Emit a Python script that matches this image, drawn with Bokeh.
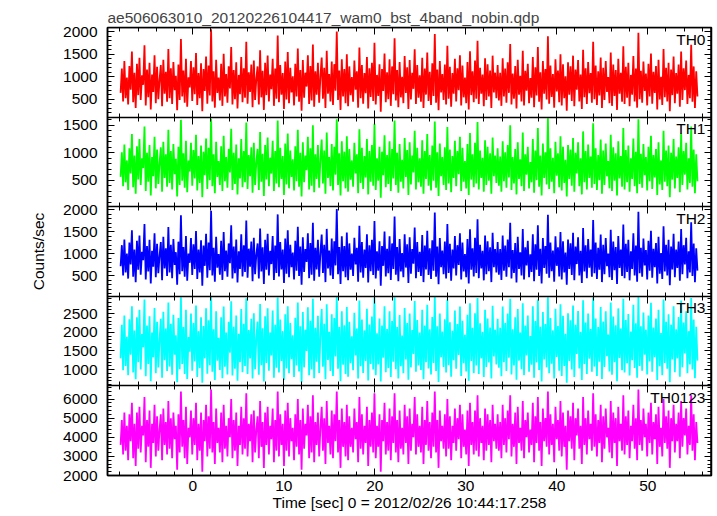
import numpy as np
from bokeh.plotting import figure
from bokeh.models import (Range1d, LinearAxis, FixedTicker, SingleIntervalTicker,
                          Label)
from bokeh.embed import file_html
from bokeh.resources import INLINE

# ---------------- data ----------------
t_start = -7.93
t_step = 0.1381

th0 = [
    640, 1180, 450, 1350, 520, 980, 380, 1240, 710, 1560, 430, 1090, 300, 1290, 590, 1420, 480, 1030, 820, 1700,
    360, 1160, 540, 1310, 270, 1050, 660, 1480, 410, 1220, 500, 930, 1260, 340, 1380, 620, 1110, 440, 1620, 520,
    1190, 390, 1330, 700, 1020, 250, 1270, 480, 1840, 560, 1140, 420, 1400, 330, 990, 760, 1350, 460, 1210, 610,
    1530, 370, 1080, 520, 1300, 230, 1170, 680, 1450, 400, 1250, 580, 2060, 450, 1120, 310, 1380, 640, 980, 470,
    1290, 350, 1510, 560, 1060, 420, 1230, 740, 1660, 380, 1150, 500, 1320, 290, 1040, 610, 1440, 430, 1190, 530,
    1780, 400, 1100, 660, 1270, 320, 1360, 480, 960, 1230, 380, 1590, 540, 1130, 260, 1310, 590, 1470, 450, 1050,
    720, 1400, 350, 1180, 510, 1920, 430, 1260, 600, 1080, 280, 1340, 490, 1550, 410, 1200, 650, 1010, 360, 1290,
    560, 1630, 440, 1150, 240, 1370, 530, 1090, 780, 1480, 390, 1240, 470, 1720, 330, 1120, 600, 1310, 420, 1010,
    1430, 510, 1200, 300, 1580, 620, 1060, 450, 1340, 370, 1280, 690, 2010, 480, 1140, 260, 1390, 560, 1170, 410,
    1500, 340, 1230, 590, 990, 440, 1360, 710, 1120, 310, 1650, 520, 1260, 400, 1080, 630, 1440, 290, 1190, 550,
    1310, 460, 1760, 380, 1040, 570, 1280, 220, 1170, 680, 1520, 430, 1100, 500, 1390, 350, 1230, 610, 1860, 470,
    1150, 320, 1330, 540, 1000, 410, 1460, 640, 1210, 280, 1370, 490, 1090, 730, 1610, 390, 1260, 530, 1030, 440,
    1420, 300, 1180, 600, 1540, 460, 1110, 370, 1300, 570, 1950, 420, 1160, 250, 1350, 650, 1060, 480, 1270, 380,
    1690, 510, 1220, 330, 1080, 620, 1400, 450, 1190, 700, 1480, 360, 1250, 540, 980, 410, 1330, 270, 1570, 590,
    1120, 430, 1360, 510, 1800, 390, 1200, 620, 1050, 340, 1410, 480, 1280, 560, 1140, 300, 1470, 650, 1090, 520,
    1260, 470, 1090, 350, 1410, 560, 1180, 420, 1320, 640, 1730, 380, 1070, 510, 1240, 290, 1380, 600, 1020, 450,
    1580, 360, 1130, 690, 1290, 410, 970, 530, 1440, 320, 1210, 580, 1660, 440, 1100, 270, 1350, 620, 1170, 490,
    1900, 400, 1250, 550, 1060, 310, 1390, 670, 1140, 430, 1500, 360, 1280, 520, 1010, 240, 1320, 600, 1230, 460,
    1470, 340, 1160, 710, 1370, 450, 1050, 280, 1600, 540, 1190, 390, 1330, 630, 1080, 420, 1780, 500, 1250, 370,
    1120, 580, 1430, 300, 1200, 480, 1350, 660, 990, 410, 1540, 350, 1270, 570, 1150, 260, 1400, 620, 1090, 440,
    1680, 390, 1220, 530, 1310, 340, 1040, 600, 1460, 450, 1180, 310, 1980, 500, 1130, 420, 1340, 680, 1070, 360,
    1290, 560, 1520, 400, 1110, 640, 1240, 270, 1380, 490, 1000, 370, 1620, 540, 1200, 450, 1310, 230, 1160, 590,
    1450, 410, 1080, 620, 1270, 330, 1560, 480, 1190, 700, 1360, 390, 1040, 520, 1710, 440, 1230, 300, 1120, 560,
]
th1 = [
    560, 1010, 390, 1150, 460, 860, 320, 1080, 620, 1340, 370, 950, 250, 1120, 510, 1250, 410, 900, 720, 1480,
    300, 1000, 470, 1140, 220, 920, 570, 1290, 350, 1060, 430, 810, 1100, 290, 1200, 540, 970, 380, 1420, 450,
    1030, 330, 1160, 610, 890, 200, 1110, 410, 1600, 490, 990, 360, 1220, 280, 860, 660, 1180, 400, 1050, 530,
    1330, 310, 940, 450, 1130, 190, 1020, 590, 1260, 340, 1090, 500, 1620, 390, 970, 260, 1200, 560, 850, 410,
    1120, 300, 1310, 480, 920, 360, 1070, 640, 1440, 320, 1000, 430, 1150, 240, 900, 530, 1250, 370, 1030, 460,
    1550, 340, 960, 570, 1100, 270, 1180, 410, 830, 1070, 320, 1380, 470, 980, 210, 1140, 510, 1280, 390, 910,
    620, 1220, 300, 1030, 440, 1590, 370, 1090, 520, 940, 230, 1170, 420, 1350, 350, 1040, 560, 880, 310, 1120,
    480, 1420, 380, 1000, 200, 1190, 460, 950, 680, 1290, 330, 1080, 400, 1500, 280, 970, 520, 1140, 360, 880,
    1240, 440, 1040, 250, 1370, 540, 920, 390, 1160, 310, 1110, 600, 1610, 410, 990, 220, 1210, 480, 1020, 350,
    1300, 290, 1070, 510, 860, 380, 1180, 620, 970, 260, 1430, 450, 1090, 340, 940, 550, 1250, 240, 1030, 470,
    1140, 400, 1530, 320, 900, 490, 1110, 180, 1020, 590, 1320, 370, 960, 430, 1210, 300, 1070, 530, 1590, 410,
    1000, 270, 1160, 470, 870, 350, 1270, 560, 1050, 230, 1190, 420, 950, 640, 1400, 330, 1090, 460, 900, 380,
    1230, 250, 1030, 520, 1340, 400, 960, 310, 1130, 490, 1570, 360, 1010, 210, 1170, 570, 920, 410, 1100, 320,
    1470, 440, 1060, 280, 940, 540, 1220, 390, 1030, 610, 1290, 300, 1090, 470, 850, 350, 1160, 230, 1360, 510,
    970, 370, 1180, 440, 1560, 330, 1040, 540, 910, 290, 1230, 410, 1110, 490, 990, 250, 1280, 570, 950, 450,
    1080, 400, 930, 290, 1210, 480, 1010, 360, 1140, 550, 1500, 320, 920, 440, 1070, 240, 1190, 520, 880, 390,
    1370, 300, 970, 600, 1110, 350, 830, 460, 1250, 270, 1040, 500, 1450, 380, 950, 220, 1170, 540, 1010, 420,
    1630, 340, 1080, 470, 910, 260, 1200, 580, 990, 370, 1300, 310, 1110, 450, 870, 200, 1140, 520, 1060, 400,
    1270, 290, 1000, 620, 1190, 390, 900, 240, 1390, 460, 1030, 330, 1150, 540, 930, 360, 1540, 430, 1080, 320,
    960, 500, 1240, 250, 1040, 410, 1170, 570, 850, 350, 1330, 300, 1100, 490, 990, 220, 1210, 530, 940, 380,
    1450, 330, 1050, 460, 1130, 290, 900, 520, 1260, 390, 1020, 260, 1610, 430, 980, 360, 1160, 590, 920, 310,
    1110, 480, 1310, 340, 960, 550, 1070, 230, 1190, 420, 860, 320, 1400, 470, 1040, 390, 1130, 190, 1000, 510,
    1250, 350, 930, 540, 1100, 280, 1350, 410, 1030, 600, 1180, 330, 900, 450, 1480, 380, 1060, 260, 970, 480,
]
th2 = [
    720, 1200, 510, 1330, 580, 1010, 440, 1260, 760, 1540, 480, 1100, 360, 1300, 640, 1420, 530, 1050, 860, 1680,
    420, 1180, 600, 1320, 330, 1070, 710, 1470, 470, 1230, 560, 960, 1270, 400, 1390, 670, 1130, 500, 1610, 580,
    1210, 450, 1340, 750, 1040, 300, 1280, 540, 1880, 610, 1160, 480, 1410, 390, 1010, 800, 1360, 520, 1220, 660,
    1520, 430, 1100, 580, 1310, 280, 1190, 730, 1460, 460, 1260, 630, 1980, 510, 1140, 370, 1390, 690, 1000, 530,
    1300, 410, 1500, 610, 1080, 480, 1240, 790, 1650, 440, 1170, 560, 1330, 350, 1060, 660, 1450, 490, 1200, 590,
    1760, 460, 1120, 710, 1280, 380, 1370, 540, 990, 1240, 440, 1580, 600, 1150, 320, 1320, 640, 1460, 510, 1070,
    770, 1410, 410, 1190, 570, 1900, 490, 1270, 650, 1100, 340, 1350, 550, 1540, 470, 1210, 700, 1030, 420, 1300,
    620, 1620, 500, 1170, 300, 1380, 590, 1110, 820, 1470, 450, 1250, 530, 1710, 390, 1140, 650, 1320, 480, 1030,
    1440, 570, 1210, 360, 1570, 670, 1080, 510, 1350, 430, 1290, 740, 2020, 540, 1160, 320, 1400, 610, 1180, 470,
    1490, 400, 1240, 640, 1010, 500, 1370, 760, 1140, 370, 1640, 580, 1270, 460, 1100, 680, 1450, 350, 1200, 610,
    1320, 520, 1750, 440, 1060, 620, 1290, 280, 1180, 730, 1510, 490, 1120, 560, 1400, 410, 1240, 660, 1850, 530,
    1160, 380, 1340, 600, 1020, 470, 1450, 690, 1220, 340, 1380, 550, 1110, 780, 1600, 450, 1270, 590, 1050, 500,
    1430, 360, 1190, 650, 1530, 520, 1130, 430, 1310, 620, 1940, 480, 1170, 310, 1360, 700, 1080, 540, 1280, 440,
    1680, 570, 1230, 390, 1100, 670, 1410, 510, 1200, 750, 1470, 420, 1260, 600, 1000, 470, 1340, 330, 1560, 640,
    1130, 490, 1370, 570, 1790, 450, 1210, 670, 1070, 400, 1420, 540, 1290, 610, 1150, 360, 1480, 700, 1110, 580,
    1270, 530, 1110, 410, 1420, 620, 1190, 480, 1330, 700, 1710, 440, 1090, 570, 1250, 350, 1390, 660, 1040, 510,
    1570, 420, 1150, 740, 1300, 470, 990, 590, 1450, 380, 1220, 640, 1650, 500, 1120, 330, 1360, 680, 1180, 550,
    1890, 460, 1260, 610, 1080, 370, 1400, 730, 1150, 490, 1500, 420, 1290, 580, 1030, 300, 1330, 660, 1240, 520,
    1480, 400, 1170, 770, 1380, 510, 1070, 340, 1590, 600, 1200, 450, 1340, 690, 1100, 480, 1770, 560, 1260, 430,
    1140, 640, 1440, 360, 1210, 540, 1360, 720, 1010, 470, 1550, 410, 1280, 630, 1160, 320, 1410, 680, 1100, 500,
    1670, 450, 1230, 590, 1320, 400, 1060, 660, 1470, 510, 1190, 370, 1960, 560, 1140, 480, 1350, 740, 1090, 420,
    1300, 620, 1530, 460, 1120, 700, 1250, 330, 1390, 550, 1020, 430, 1630, 600, 1210, 510, 1320, 290, 1170, 650,
    1460, 470, 1100, 680, 1280, 390, 1570, 540, 1200, 760, 1370, 450, 1060, 580, 1720, 500, 1240, 360, 1130, 620,
]
th3 = [
    1300, 2200, 980, 2450, 1100, 1880, 850, 2350, 1400, 2700, 920, 2050, 740, 2400, 1200, 2600, 1000, 1950, 1600, 2880,
    820, 2180, 1150, 2430, 690, 1990, 1330, 2650, 900, 2280, 1060, 1800, 2360, 780, 2550, 1250, 2100, 960, 2800, 1080,
    2230, 860, 2470, 1400, 1920, 660, 2380, 1010, 2940, 1150, 2140, 880, 2600, 750, 1870, 1480, 2500, 970, 2250, 1220,
    2720, 800, 2030, 1040, 2400, 650, 2170, 1300, 2640, 890, 2320, 1120, 2950, 940, 2080, 720, 2560, 1240, 1850, 990,
    2400, 770, 2690, 1080, 1990, 870, 2280, 1450, 2830, 840, 2150, 1020, 2450, 700, 1960, 1200, 2620, 930, 2230, 1100,
    2910, 880, 2060, 1300, 2360, 760, 2510, 1010, 1840, 2290, 860, 2760, 1120, 2110, 680, 2430, 1180, 2640, 970, 1990,
    1380, 2580, 780, 2200, 1050, 2930, 920, 2340, 1230, 2030, 720, 2480, 1030, 2700, 900, 2250, 1280, 1920, 800, 2390,
    1110, 2800, 950, 2160, 660, 2540, 1060, 2070, 1500, 2670, 850, 2310, 1000, 2900, 770, 2120, 1210, 2440, 910, 1950,
    2620, 1080, 2230, 740, 2750, 1260, 2010, 960, 2480, 830, 2380, 1350, 2960, 1020, 2140, 690, 2560, 1130, 2190, 880,
    2680, 810, 2280, 1170, 1890, 980, 2520, 1380, 2100, 760, 2850, 1090, 2340, 910, 2050, 1230, 2630, 710, 2210, 1150,
    2420, 1000, 2930, 850, 1970, 1140, 2370, 680, 2180, 1320, 2700, 930, 2090, 1040, 2560, 800, 2300, 1210, 2940, 1010,
    2140, 760, 2460, 1090, 1910, 900, 2650, 1270, 2250, 730, 2500, 1060, 2060, 1420, 2840, 940, 2330, 1110, 1990, 990,
    2600, 740, 2180, 1200, 2740, 1030, 2080, 870, 2410, 1180, 2950, 960, 2160, 670, 2500, 1330, 2020, 1070, 2350, 920,
    2880, 1120, 2270, 810, 2040, 1250, 2580, 1020, 2220, 1390, 2690, 830, 2310, 1170, 1930, 950, 2470, 700, 2780, 1230,
    2120, 900, 2510, 1110, 2920, 880, 2240, 1300, 2010, 800, 2600, 1070, 2370, 1190, 2130, 760, 2710, 1350, 2070, 1140,
    2360, 1050, 2120, 820, 2690, 1200, 2250, 960, 2500, 1320, 2900, 870, 2080, 1110, 2400, 730, 2620, 1240, 1990, 1010,
    2780, 850, 2180, 1380, 2450, 940, 1900, 1130, 2700, 780, 2300, 1190, 2880, 990, 2150, 680, 2540, 1270, 2220, 1060,
    2940, 900, 2380, 1160, 2050, 760, 2630, 1340, 2170, 970, 2750, 830, 2440, 1100, 1960, 650, 2510, 1230, 2320, 1000,
    2720, 800, 2200, 1420, 2570, 1030, 2010, 720, 2860, 1150, 2260, 880, 2500, 1290, 2090, 940, 2930, 1080, 2370, 830,
    2140, 1210, 2680, 750, 2290, 1070, 2560, 1360, 1940, 950, 2800, 860, 2420, 1200, 2190, 690, 2640, 1310, 2100, 980,
    2900, 920, 2330, 1170, 2490, 840, 2020, 1250, 2740, 1040, 2240, 780, 2950, 1100, 2160, 970, 2530, 1400, 2070, 870,
    2450, 1220, 2790, 940, 2130, 1330, 2370, 720, 2600, 1090, 1980, 850, 2880, 1180, 2280, 1020, 2480, 660, 2200, 1270,
    2700, 930, 2080, 1300, 2410, 810, 2850, 1060, 2260, 1430, 2560, 900, 2030, 1140, 2920, 1000, 2340, 770, 2150, 1240,
]
th0123 = [
    3600, 4900, 3100, 5300, 3300, 4600, 2800, 5200, 3800, 5800, 2900, 4700, 2500, 5300, 3400, 5600, 3200, 4600, 4100, 6100,
    2700, 4900, 3500, 5400, 2400, 4700, 3700, 5700, 3000, 5100, 3300, 4400, 5200, 2800, 5500, 3600, 4800, 3100, 5900, 3400,
    5000, 2900, 5300, 3900, 4600, 2300, 5200, 3200, 6400, 3500, 4900, 2900, 5600, 2600, 4500, 4000, 5400, 3100, 5000, 3600,
    5800, 2800, 4700, 3300, 5300, 2200, 4900, 3800, 5700, 3000, 5100, 3400, 6500, 3200, 4800, 2600, 5500, 3700, 4500, 3200,
    5300, 2700, 5700, 3400, 4600, 3000, 5000, 4000, 6000, 2900, 4900, 3300, 5300, 2500, 4600, 3600, 5600, 3100, 5000, 3400,
    6300, 3000, 4700, 3800, 5200, 2700, 5400, 3200, 4400, 5100, 2900, 5900, 3500, 4800, 2400, 5300, 3600, 5600, 3100, 4600,
    3900, 5500, 2700, 4900, 3300, 6400, 3000, 5200, 3600, 4700, 2500, 5400, 3300, 5800, 3000, 5000, 3800, 4500, 2800, 5200,
    3500, 6000, 3100, 4900, 2300, 5500, 3400, 4700, 4100, 5700, 2900, 5100, 3200, 6200, 2700, 4800, 3600, 5300, 3000, 4500,
    5600, 3300, 5000, 2600, 5900, 3700, 4600, 3100, 5400, 2900, 5200, 3800, 6400, 3200, 4900, 2400, 5500, 3500, 4800, 3000,
    5700, 2800, 5100, 3500, 4500, 3200, 5500, 3900, 4800, 2700, 6100, 3400, 5200, 3100, 4600, 3700, 5600, 2500, 4900, 3500,
    5300, 3200, 6300, 2900, 4600, 3500, 5200, 2200, 4900, 3800, 5800, 3100, 4800, 3300, 5500, 2800, 5100, 3700, 6300, 3200,
    4900, 2700, 5400, 3400, 4500, 3100, 5700, 3700, 5100, 2600, 5500, 3300, 4700, 4000, 6100, 3100, 5200, 3500, 4600, 3200,
    5600, 2600, 4900, 3600, 5900, 3300, 4800, 2900, 5300, 3500, 6400, 3200, 4900, 2400, 5400, 3800, 4600, 3400, 5200, 3000,
    6000, 3400, 5100, 2800, 4600, 3700, 5500, 3300, 5000, 3900, 5700, 2900, 5200, 3500, 4400, 3100, 5400, 2500, 5800, 3600,
    4800, 3100, 5400, 3300, 6200, 3000, 5000, 3700, 4600, 2800, 5500, 3300, 5200, 3600, 4900, 2700, 5700, 3800, 4700, 3400,
    5200, 3300, 4800, 2900, 5700, 3600, 5000, 3200, 5400, 3900, 6200, 3000, 4700, 3500, 5300, 2600, 5600, 3700, 4500, 3300,
    5900, 2900, 4900, 4000, 5300, 3200, 4400, 3600, 5800, 2700, 5100, 3700, 6100, 3300, 4800, 2500, 5500, 3800, 5000, 3500,
    6400, 3100, 5200, 3600, 4700, 2700, 5600, 3900, 4900, 3300, 5900, 3000, 5300, 3500, 4600, 2300, 5400, 3800, 5100, 3400,
    5800, 2800, 5000, 4100, 5500, 3400, 4600, 2600, 6100, 3600, 5000, 3100, 5400, 3900, 4700, 3300, 6300, 3500, 5200, 3000,
    4900, 3700, 5700, 2700, 5100, 3400, 5500, 4000, 4500, 3200, 5900, 2900, 5300, 3700, 5000, 2500, 5600, 3800, 4700, 3300,
    6200, 3100, 5100, 3600, 5400, 2900, 4600, 3800, 5700, 3400, 5000, 2800, 6500, 3600, 4900, 3300, 5500, 4000, 4700, 3000,
    5300, 3700, 5800, 3100, 4800, 3900, 5200, 2600, 5600, 3500, 4500, 3000, 6000, 3700, 5100, 3400, 5400, 2400, 5000, 3800,
    5700, 3200, 4700, 3800, 5300, 2900, 5900, 3500, 5000, 4100, 5500, 3100, 4600, 3600, 6200, 3300, 5200, 2800, 4800, 3700,
]

panel_names = ["TH0", "TH1", "TH2", "TH3", "TH0123"]
panel_series = [th0, th1, th2, th3, th0123]
panel_colors = ["#ff0000", "#00ff00", "#0000ff", "#00ffff", "#ff00ff"]
y_lows = [99, 15, 37, 563, 2000]
y_highs = [2098, 1651, 2075, 2964, 6688]
y_intervals = [500, 500, 500, 500, 1000]
x_lo, x_hi = -9.37, 57.0
x_interval = 10

title_text = "ae506063010_20120226104417_wam0_bst_4band_nobin.qdp"
x_label = "Time [sec] 0 = 2012/02/26 10:44:17.258"
y_label = "Counts/sec"

FONT = "Liberation Sans"
FS = "15.5px"
N = len(panel_names)

t = t_start + t_step * np.arange(len(th0))

p = figure(width=717, height=516, x_range=Range1d(x_lo, x_hi),
           y_range=Range1d(0, N),
           output_backend="svg", toolbar_location=None,
           min_border_left=107, min_border_right=6,
           min_border_top=27, min_border_bottom=41)
p.xgrid.grid_line_color = None
p.ygrid.grid_line_color = None
p.outline_line_color = "black"
p.outline_line_width = 1.5
p.background_fill_color = "white"
p.border_fill_color = "white"

# title
p.title.text = title_text
p.title.text_font = FONT
p.title.text_font_size = FS
p.title.text_font_style = "normal"
p.title.align = "left"
p.title.standoff = 3


def style_ticks(ax, tick_in, tick_out):
    ax.axis_line_color = "black"
    ax.axis_line_width = 1.5
    ax.major_tick_line_color = "black"
    ax.minor_tick_line_color = "black"
    ax.major_tick_in = tick_in[0]
    ax.minor_tick_in = tick_in[1]
    ax.major_tick_out = tick_out[0]
    ax.minor_tick_out = tick_out[1]
    ax.major_label_text_font = FONT
    ax.axis_label_text_font = FONT
    ax.axis_label_text_font_style = "normal"
    ax.axis_label_text_font_size = FS
    ax.axis_label_text_color = "black"


def hide_labels(ax):
    ax.major_label_text_font_size = "0px"
    ax.major_label_text_color = None
    ax.major_label_standoff = 0


# main bottom x axis (with labels)
xa = p.xaxis[0]
xa.ticker = SingleIntervalTicker(interval=x_interval, num_minor_ticks=5)
style_ticks(xa, (7, 4), (0, 0))
xa.major_label_text_font_size = FS
xa.major_label_text_color = "black"
xa.major_label_standoff = 5
xa.axis_label = x_label
xa.axis_label_standoff = 0

# top edge x axis
top = LinearAxis(ticker=SingleIntervalTicker(interval=x_interval, num_minor_ticks=5),
                 fixed_location=N)
style_ticks(top, (7, 4), (0, 0))
hide_labels(top)
p.add_layout(top, "above")

# panel separators: x axes with ticks into both neighbouring panels
for k in range(1, N):
    sep = LinearAxis(ticker=SingleIntervalTicker(interval=x_interval, num_minor_ticks=5),
                     fixed_location=k)
    style_ticks(sep, (7, 4), (7, 4))
    hide_labels(sep)
    p.add_layout(sep, "below")

left_ticks, left_minor, left_labels = [], [], {}
for i in range(N):
    name = f"r{i}"
    lo, hi = y_lows[i], y_highs[i]
    span = hi - lo
    base = N - 1 - i
    p.extra_y_ranges[name] = Range1d(lo - base * span, hi + i * span)

    iv = y_intervals[i]
    majors = [int(v) for v in np.arange(0, hi + 1, iv) if lo <= v <= hi]
    minors = [float(v) for v in np.arange(0, hi + 1, iv / 5) if lo <= v <= hi]

    # left-edge ticks and labels of this panel, carried by the main y axis
    for v in majors:
        pos = float(base + (v - lo) / span)
        left_ticks.append(pos)
        left_labels[pos] = str(v)
    for v in minors:
        left_minor.append(float(base + (v - lo) / span))

    right = LinearAxis(y_range_name=name, fixed_location=x_hi,
                       ticker=FixedTicker(ticks=majors, minor_ticks=minors))
    style_ticks(right, (7, 4), (0, 0))
    hide_labels(right)
    p.add_layout(right, "right")

    p.line(t, panel_series[i], y_range_name=name,
           line_color=panel_colors[i], line_width=1.8)

    p.add_layout(Label(x=56.34, y=hi, y_range_name=name, text=panel_names[i],
                       text_align="right", text_baseline="top", y_offset=-3,
                       text_font=FONT, text_font_size=FS, text_color="black"))

ya = p.yaxis[0]
ya.ticker = FixedTicker(ticks=left_ticks, minor_ticks=left_minor)
ya.major_label_overrides = left_labels
style_ticks(ya, (7, 4), (0, 0))
ya.major_label_text_font_size = FS
ya.major_label_text_color = "black"
ya.major_label_standoff = 10
ya.axis_label = y_label
ya.axis_label_standoff = 13

open("out.html", "w").write(file_html(p, INLINE))
